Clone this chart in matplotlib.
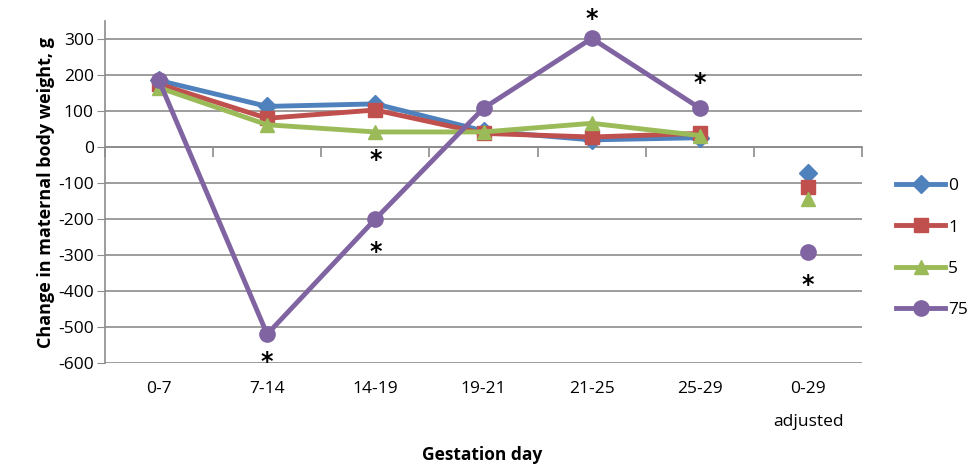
import numpy as np
import matplotlib
matplotlib.use("Agg")
import matplotlib.pyplot as plt

# gestation day intervals
days = ["0-7", "7-14", "14-19", "19-21", "21-25", "25-29", "0-29\nadjusted"]

# change in maternal body weight (g) per dose group
dose0 = [185, 113, 120, 45, 20, 26, -72]
dose1 = [175, 80, 103, 38, 28, 38, -112]
dose5 = [165, 62, 42, 42, 66, 32, -145]
dose75 = [185, -520, -200, 108, 302, 108, -292]

doses = ["0", "1", "5", "75"]
colors = ["#4F81BD", "#C0504D", "#9BBB59", "#8064A2"]
markers = ["D", "s", "^", "o"]
msizes = [9, 10, 10, 11]

# significance stars: (category index, value of marked point, offset in points)
stars_idx = [1, 2, 2, 4, 5, 6]
stars_val = [-520, 42, -200, 302, 108, -292]
stars_off = [-20, -20, -24, 14, 18, -24]

plt.rcParams['font.family'] = ['Open Sans', 'DejaVu Sans']
plt.rcParams['axes.unicode_minus'] = False

fig = plt.figure(figsize=(9.71, 4.69), dpi=100)
ax = fig.add_axes([0.108, 0.226, 0.78, 0.729])

x = np.arange(len(days))
series = [dose0, dose1, dose5, dose75]
for vals, lab, c, m, ms in zip(series, doses, colors, markers, msizes):
    v = np.array(vals, dtype=float)
    # last category stands alone (not joined to the line)
    ax.plot(x[:-1], v[:-1], color=c, lw=3.5, marker=m, ms=ms, label=lab, zorder=3)
    ax.plot(x[-1:], v[-1:], color=c, lw=0, marker=m, ms=ms, zorder=3)

for i, v, off in zip(stars_idx, stars_val, stars_off):
    ax.annotate("*", (x[i], v), xytext=(0, off), textcoords="offset points",
                ha="center", va="center", fontsize=17, fontweight="bold",
                family="DejaVu Sans")

ax.set_xlim(-0.5, len(days) - 0.5)
ax.set_ylim(-600, 350)
ax.set_yticks(np.arange(-600, 301, 100))
ax.yaxis.grid(True, color="#8C8C8C", lw=1.2)
ax.set_axisbelow(True)

for s in ["top", "right", "bottom"]:
    ax.spines[s].set_visible(False)
ax.spines["left"].set_color("#8C8C8C")
ax.spines["left"].set_linewidth(1.2)
ax.tick_params(axis="y", length=6, color="#8C8C8C", labelsize=12.5, pad=2)

ax.set_xticks(x)
ax.set_xticklabels(days, linespacing=2.4)
ax.tick_params(axis="x", length=0, labelsize=12.5, pad=13)

# category axis crossing at zero with tick marks between categories
zax = ax.secondary_xaxis(0, transform=ax.transData)
zax.set_xticks(np.arange(len(days) + 1) - 0.5)
zax.set_xticklabels([])
zax.tick_params(length=7, color="#8C8C8C", width=1.2)
zax.spines["bottom"].set_color("#8C8C8C")
zax.spines["bottom"].set_linewidth(1.2)

ax.set_ylabel("Change in maternal body weight, g", fontsize=13,
              fontweight="bold", labelpad=2)
fig.text(0.497, 0.03, "Gestation day", ha="center", va="center",
         fontsize=12.5, fontweight="bold")

ax.legend(loc="center left", bbox_to_anchor=(0.923, 0.471),
          bbox_transform=fig.transFigure, frameon=False, fontsize=12.5,
          handlelength=2.8, labelspacing=1.45, handletextpad=0.2,
          borderpad=0, borderaxespad=0)

fig.savefig("out.png", dpi=100)
